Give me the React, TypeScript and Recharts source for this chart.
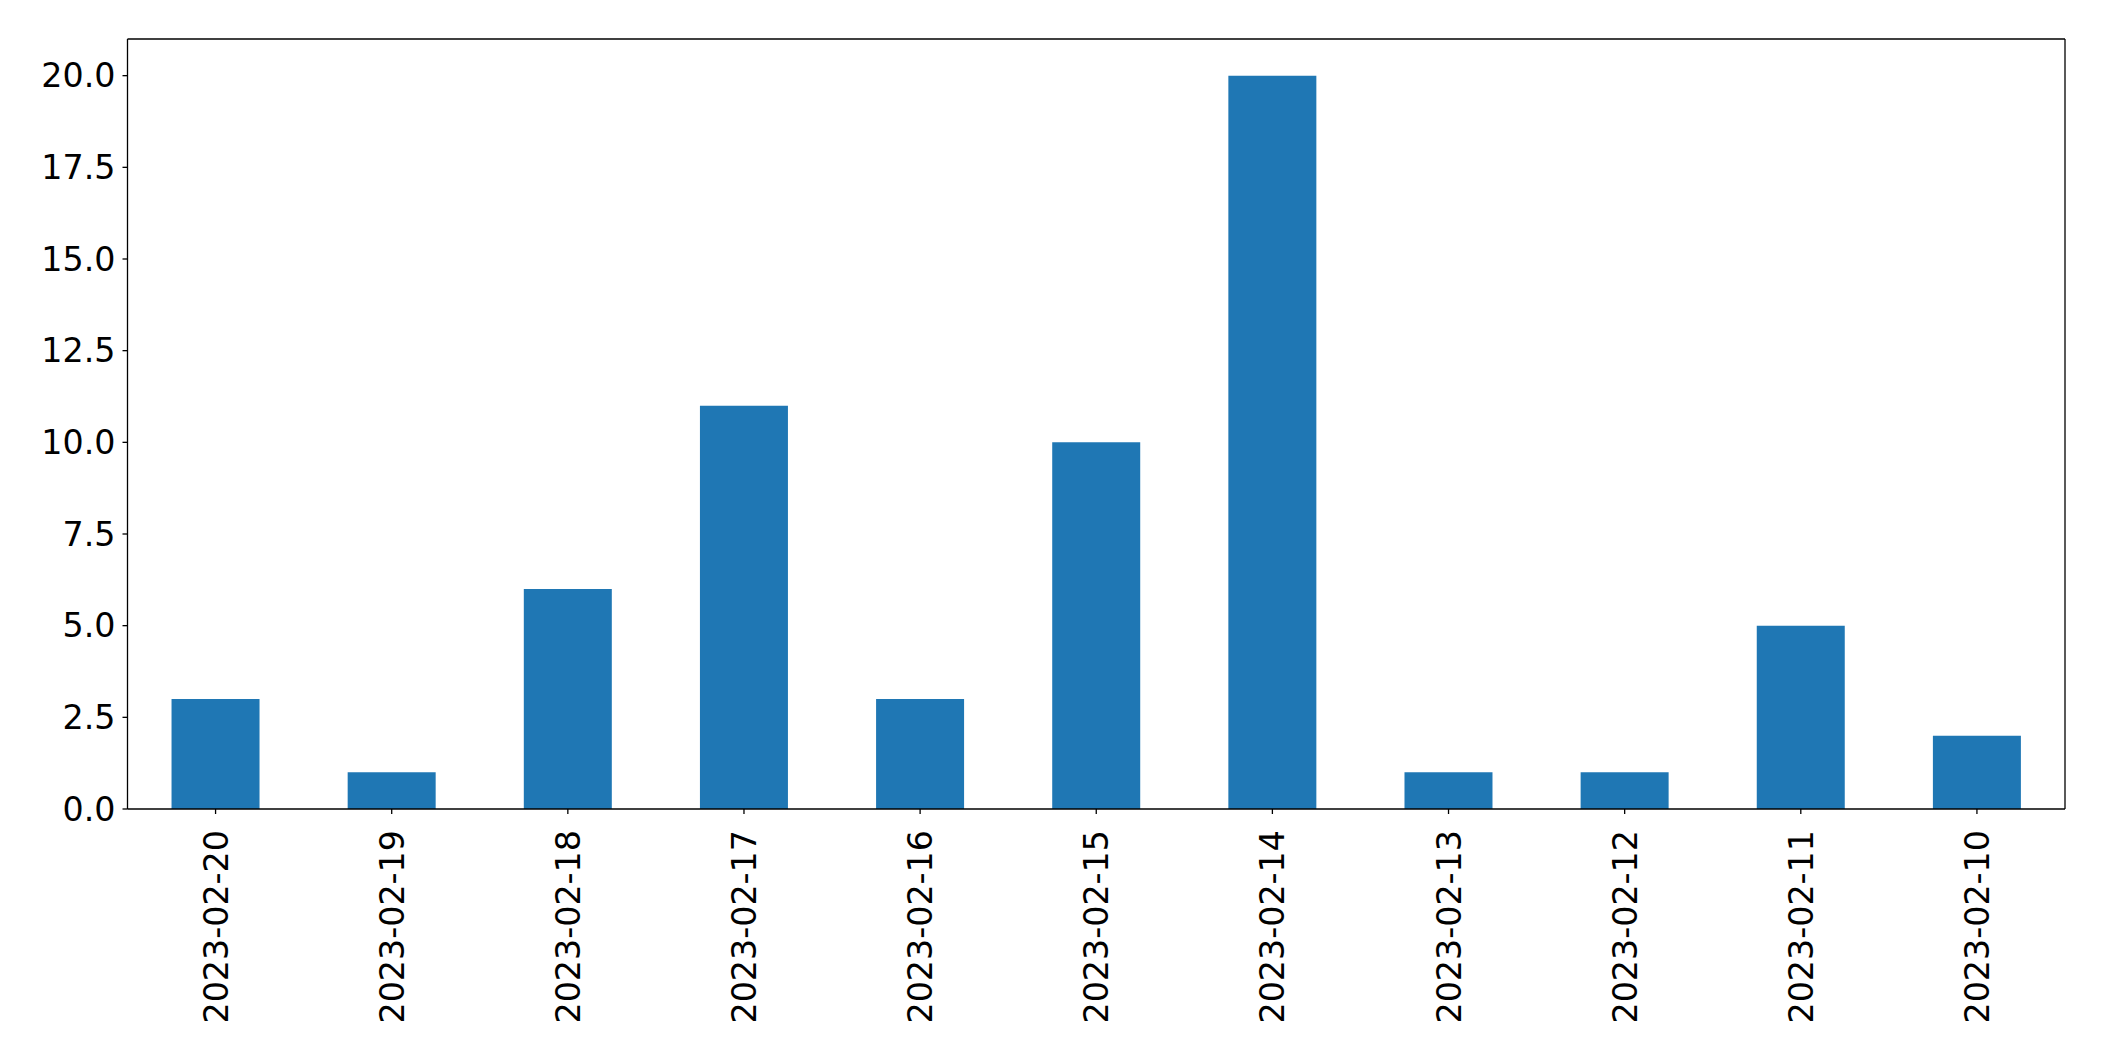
import { BarChart, Bar, XAxis, YAxis } from 'recharts';

const dates = [
  '2023-02-20', '2023-02-19', '2023-02-18', '2023-02-17', '2023-02-16', '2023-02-15',
  '2023-02-14', '2023-02-13', '2023-02-12', '2023-02-11', '2023-02-10',
];
const counts = [3, 1, 6, 11, 3, 10, 20, 1, 1, 5, 2];
const yTicks = [0, 2.5, 5, 7.5, 10, 12.5, 15, 17.5, 20];

const data = dates.map((d, i) => ({ date: d, count: counts[i] }));

const FONT = '"DejaVu Sans", sans-serif';

function DateTick({ x, y, payload }: any) {
  return (
    <g transform={`translate(${x},${y + 14})`}>
      <text
        x={0}
        y={0}
        dy="0.36em"
        transform="rotate(-90)"
        textAnchor="end"
        fill="#000"
        fontSize={33.3}
        fontFamily={FONT}
      >
        {payload.value}
      </text>
    </g>
  );
}

export default function App() {
  return (
    <div style={{ position: 'absolute', left: 0, top: 0, background: '#fff' }}>
      <BarChart
        width={2104}
        height={1061}
        data={data}
        margin={{ top: 38, right: 38, left: 0, bottom: 0 }}
        barCategoryGap="25%"
      >
        <XAxis
          dataKey="date"
          height={252}
          interval={0}
          tickSize={5}
          tick={<DateTick />}
          axisLine={{ stroke: '#000', strokeWidth: 1.3 }}
          tickLine={{ stroke: '#000', strokeWidth: 1.3 }}
        />
        <XAxis
          xAxisId="top"
          dataKey="date"
          orientation="top"
          height={1}
          tick={false}
          tickLine={false}
          axisLine={{ stroke: '#000', strokeWidth: 1.3 }}
        />
        <YAxis
          width={127.5}
          domain={[0, 21]}
          ticks={yTicks}
          interval={0}
          tickSize={5}
          tickMargin={7}
          tickFormatter={(v: number) => v.toFixed(1)}
          tick={{ fill: '#000', fontSize: 33.3, fontFamily: FONT }}
          axisLine={{ stroke: '#000', strokeWidth: 1.3 }}
          tickLine={{ stroke: '#000', strokeWidth: 1.3 }}
        />
        <YAxis
          yAxisId="right"
          orientation="right"
          width={1}
          domain={[0, 21]}
          tick={false}
          tickLine={false}
          axisLine={{ stroke: '#000', strokeWidth: 1.3 }}
        />
        <Bar dataKey="count" fill="#1f77b4" isAnimationActive={false} />
      </BarChart>
    </div>
  );
}
